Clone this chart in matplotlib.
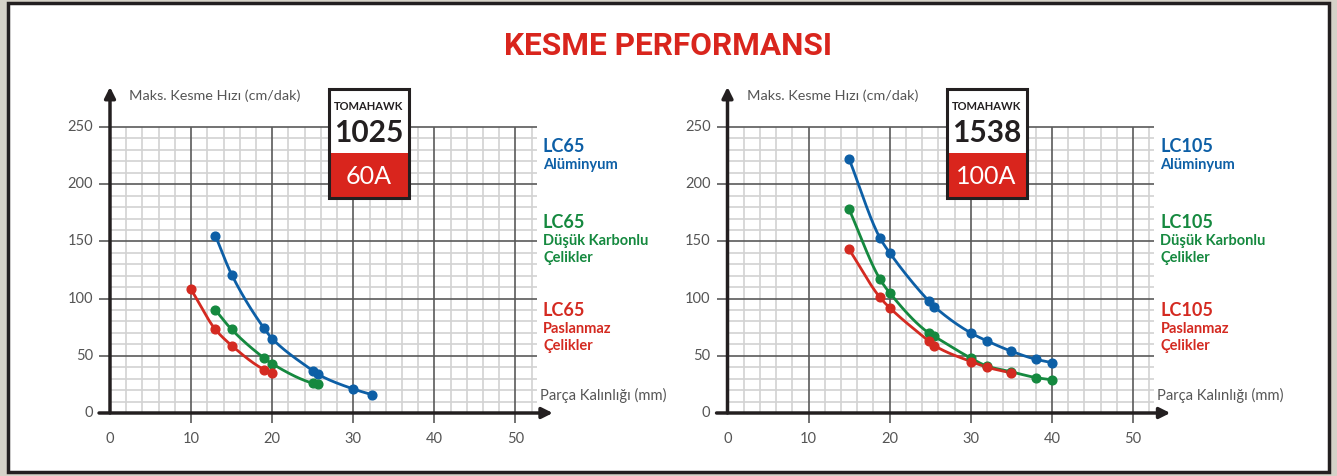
import numpy as np
import matplotlib
matplotlib.use('Agg')
import matplotlib.pyplot as plt
from matplotlib.patches import Rectangle

plt.rcParams['font.family'] = ['Lato', 'DejaVu Sans']

# Data (thickness mm, max cutting speed cm/min)
x_lc65_alu = [13, 15, 19, 20, 25, 25.6, 30, 32.3]
y_lc65_alu = [155, 121, 74, 65, 37, 34, 21, 16]
x_lc65_steel = [13, 15, 19, 20, 25, 25.6]
y_lc65_steel = [90, 73, 48, 43, 26, 25]
x_lc65_stain = [10, 13, 15, 19, 20]
y_lc65_stain = [108, 73, 59, 38, 35]

x_lc105_alu = [15, 18.8, 20, 24.8, 25.5, 30, 32, 35, 38, 40]
y_lc105_alu = [222, 153, 140, 98, 93, 70, 63, 54, 47, 44]
x_lc105_steel = [15, 18.8, 20, 24.8, 25.5, 30, 32, 35, 38, 40]
y_lc105_steel = [178, 117, 105, 70, 67, 48, 41, 36, 31, 29]
x_lc105_stain = [15, 18.8, 20, 24.8, 25.5, 30, 32, 35]
y_lc105_stain = [143, 101, 92, 63, 59, 45, 40, 35]

x_ticks = [0, 10, 20, 30, 40, 50]
y_ticks = [0, 50, 100, 150, 200, 250]

materials = ['Alüminyum', 'Düşük Karbonlu\nÇelikler', 'Paslanmaz\nÇelikler']

BLUE = '#0d5fa6'
GREEN = '#15893f'
RED = '#d42a21'
DARK = '#231f20'
GRAY = '#5a5a5a'

W, H = 1337, 476
fig = plt.figure(figsize=(W / 100, H / 100), dpi=100)
fig.patch.set_facecolor('#d5d2c8')


def fx(px):
    return px / W


def fy(py):
    return 1 - py / H


# white card with dark border (behind the axes)
fig.patches.append(Rectangle((fx(8), fy(472)), fx(1321), 469 / H, transform=fig.transFigure,
                             facecolor='white', edgecolor=DARK, lw=2.5, zorder=-5))

fig.text(fx(668), fy(46), 'KESME PERFORMANSI', ha='center', va='center', color='#d9251d',
         fontsize=22.8, fontweight='bold', family=['Roboto', 'DejaVu Sans'])


def smooth(x, y, n=200):
    # monotone cubic (pchip) through the points
    x = np.asarray(x, float)
    y = np.asarray(y, float)
    h = np.diff(x)
    d = np.diff(y) / h
    m = np.zeros_like(y)
    m[0], m[-1] = d[0], d[-1]
    for k in range(1, len(x) - 1):
        if d[k - 1] * d[k] > 0:
            w1 = 2 * h[k] + h[k - 1]
            w2 = h[k] + 2 * h[k - 1]
            m[k] = (w1 + w2) / (w1 / d[k - 1] + w2 / d[k])
    xs = np.linspace(x[0], x[-1], n)
    i = np.clip(np.searchsorted(x, xs) - 1, 0, len(x) - 2)
    t = (xs - x[i]) / h[i]
    h00 = 2 * t**3 - 3 * t**2 + 1
    h10 = t**3 - 2 * t**2 + t
    h01 = -2 * t**3 + 3 * t**2
    h11 = t**3 - t**2
    ys = h00 * y[i] + h10 * h[i] * m[i] + h01 * y[i + 1] + h11 * h[i] * m[i + 1]
    return xs, ys


SX = 8.11        # px per mm
XMAX = 52.6


def panel(x0, series, model, amps, label):
    ax = fig.add_axes([fx(x0), fy(413), XMAX * SX / W, 286 / H])
    ax.set_xlim(0, XMAX)
    ax.set_ylim(0, 250)
    ax.axis('off')

    minor_x = [v for v in range(2, 53, 2) if v % 10]
    minor_y = [v for v in range(10, 250, 10) if v % 50]
    ax.vlines(minor_x, 0, 250, color='#d2d2d2', lw=1.2, zorder=1)
    ax.hlines(minor_y, 0, XMAX, color='#d2d2d2', lw=1.2, zorder=1)
    ax.vlines(x_ticks[1:], -9, 250, color=GRAY, lw=1.2, zorder=2, clip_on=False)
    ax.hlines(y_ticks[1:], -1.35, XMAX, color=GRAY, lw=1.2, zorder=2, clip_on=False)

    # axes with arrows
    ax.annotate('', xy=(54.6, 0), xytext=(-1.35, 0), annotation_clip=False,
                arrowprops=dict(arrowstyle='-|>', lw=2.5, color=DARK, mutation_scale=16,
                                shrinkA=0, shrinkB=0), zorder=5)
    ax.annotate('', xy=(0, 285), xytext=(0, 0), annotation_clip=False,
                arrowprops=dict(arrowstyle='-|>', lw=2.5, color=DARK, mutation_scale=16,
                                shrinkA=0, shrinkB=0), zorder=5)

    for v in y_ticks:
        ax.text(-2.1, v, str(v), ha='right', va='center', fontsize=10.5, color='#555555')
    for v in x_ticks:
        ax.text(v, -23, str(v), ha='center', va='center', fontsize=10.5, color='#555555')

    ax.text(2.4, 277, 'Maks. Kesme Hızı (cm/dak)', ha='left', va='center', fontsize=10.4,
            color='#555555')
    ax.text(53.0, 15, 'Parça Kalınlığı (mm)', ha='left', va='center', fontsize=10.6,
            color='#555555')

    for (xs, ys), c in zip(series, [BLUE, GREEN, RED]):
        sx, sy = smooth(xs, ys)
        ax.plot(sx, sy, color=c, lw=2.0, zorder=6, solid_capstyle='round')
        ax.plot(xs, ys, 'o', color=c, ms=6.3, zorder=7)

    # legend text on the right
    lx = fx(x0 + 433)
    for (ty, c, mat) in zip([147, 223, 311], [BLUE, GREEN, RED], materials):
        fig.text(lx, fy(ty), label, ha='left', va='center', fontsize=13,
                 fontweight='bold', color=c)
        fig.text(lx, fy(ty + 11), mat, ha='left', va='top', fontsize=10.5,
                 fontweight='bold', color=c, linespacing=1.3)

    # model badge
    bx = x0 + 219
    bw = 80
    fig.patches.append(Rectangle((fx(bx), fy(198)), bw / W, 109 / H, transform=fig.transFigure,
                                 facecolor='white', edgecolor='none', zorder=7))
    fig.patches.append(Rectangle((fx(bx), fy(198)), bw / W, 45 / H, transform=fig.transFigure,
                                 facecolor='#d9251d', edgecolor='none', zorder=8))
    fig.patches.append(Rectangle((fx(bx), fy(198)), bw / W, 109 / H, transform=fig.transFigure,
                                 facecolor='none', edgecolor=DARK, lw=2.2, zorder=9))
    fig.text(fx(bx + bw / 2), fy(107), 'TOMAHAWK', ha='center', va='center', fontsize=8,
             fontweight='bold', color=DARK, zorder=10)
    fig.text(fx(bx + bw / 2), fy(133), model, ha='center', va='center', fontsize=21.5,
             fontweight='bold', color=DARK, zorder=10)
    fig.text(fx(bx + bw / 2), fy(177), amps, ha='center', va='center', fontsize=18,
             color='white', zorder=10)


panel(110, [(x_lc65_alu, y_lc65_alu), (x_lc65_steel, y_lc65_steel), (x_lc65_stain, y_lc65_stain)],
      '1025', '60A', 'LC65')
panel(727.5, [(x_lc105_alu, y_lc105_alu), (x_lc105_steel, y_lc105_steel),
              (x_lc105_stain, y_lc105_stain)],
      '1538', '100A', 'LC105')

fig.savefig('out.png', dpi=100, facecolor=fig.get_facecolor())
